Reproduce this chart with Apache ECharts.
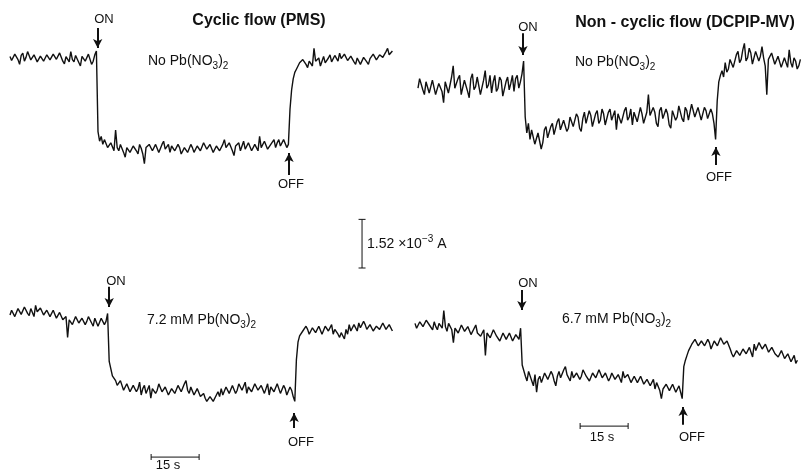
<!DOCTYPE html>
<html>
<head>
<meta charset="utf-8">
<script src="https://cdn.jsdelivr.net/npm/echarts@6/dist/echarts.min.js"></script>
<style>
  html, body { margin: 0; padding: 0; background: #fff; }
  #chart { width: 806px; height: 471px; }
</style>
</head>
<body>
<div id="chart"></div>
<script>
// photocurrent traces, 2 samples per second, values in mA relative to the dark level
const STEP = 0.5;

const cyclicNoPb = [
  0.05, -0.08, -0.12, 0.12, 0.1, -0.05, -0.2, 0.08, 0.15, -0.1, 0.02, 0.2, 0.18, -0.06, -0.05, 0.1, 0.12, -0.12, -0.08, 0.06,
  0.08, -0.1, -0.15, 0.1, 0.05, -0.06, -0.1, 0.12, 0.14, -0.04, -0.02, 0.16, 0.1, -0.1, -0.18, 0.04, 0.06, -0.12, 0.2, -0.05,
  -0.12, 0.08, 0.04, -0.14, -0.25, 0.05, 0.1, -0.1, -0.06, 0.12, 0.16, -0.2, -0.1, 0.1, 0.22, -2.3,
  -2.6, -2.45, -2.7, -2.55, -2.6, -2.8, -2.85, -2.65, -2.7, -2.9, -2.25, -2.8, -2.9, -2.7, -2.75, -2.95, -3.1, -2.8, -2.8, -2.95,
  -2.95, -2.75, -2.7, -2.9, -3.0, -2.7, -2.82, -3.0, -3.3, -2.8, -2.85, -2.7, -2.65, -2.9, -2.95, -2.7, -2.75, -2.95, -2.9, -2.7,
  -2.6, -2.85, -2.85, -2.7, -2.95, -2.75, -2.7, -2.9, -2.9, -2.7, -2.8, -3.0, -3.0, -2.8, -2.75, -2.95, -2.9, -2.7, -2.8, -2.95,
  -2.95, -2.75, -2.7, -2.9, -2.85, -2.65, -2.6, -2.85, -2.9, -2.7, -2.75, -2.95, -3.0, -2.75, -2.78, -2.9, -2.9, -2.7, -2.55, -2.8,
  -2.85, -2.65, -2.7, -2.9, -3.05, -2.75, -2.8, -2.65, -2.9, -2.75, -2.6, -2.85, -2.85, -2.65, -2.7, -2.9, -2.95, -2.7, -2.75, -2.9,
  -2.45, -2.8, -2.85, -2.6, -2.65, -2.85, -2.9, -2.7, -2.7, -2.55, -2.8, -2.65, -2.55, -2.75, -2.75, -2.55, -2.6, -2.8, -2.7, -1.6,
  -1.0, -0.65, -0.45, -0.35, -0.3, -0.15, -0.2, -0.05, -0.05, -0.2, -0.3, -0.1, -0.1, -0.25, 0.3, -0.1, -0.15, 0.0, -0.25, -0.1,
  0.05, -0.15, -0.2, 0.0, 0.1, -0.12, -0.1, 0.08, 0.02, -0.1, 0.15, -0.02, -0.05, 0.12, 0.1, -0.08, -0.1, 0.06, 0.05, -0.12,
  -0.2, 0.0, -0.05, -0.2, -0.15, 0.02, 0.05, -0.12, -0.2, -0.02, -0.05, 0.12, 0.1, -0.06, -0.08, 0.1, 0.15, 0.02, 0.05, 0.2, 0.3, 0.1, 0.15, 0.22
];

const noncyclicNoPb = [
  -0.1, 0.2, 0.25, -0.15, -0.3, 0.1, 0.1, -0.25, -0.2, 0.15, 0.2, -0.3, -0.35, 0.05, 0.05, -0.2, -0.55, 0.1, 0.15, -0.25,
  -0.2, 0.25, 0.6, -0.1, -0.1, 0.2, 0.3, -0.3, -0.25, 0.15, 0.1, -0.2, -0.4, 0.2, 0.35, -0.15, -0.05, 0.25, 0.2, -0.3,
  -0.3, 0.15, 0.45, -0.1, 0.0, 0.3, -0.25, 0.1, 0.3, -0.2, -0.1, 0.25, 0.15, -0.35, -0.35, 0.1, 0.25, -0.15, 0.05, 0.3,
  -0.2, 0.2, 0.3, -0.1, 0.1, 0.35, 0.75, -1.0,
  -1.5, -1.2, -1.7, -1.4, -1.45, -1.85, -1.9, -1.5, -1.55, -2.0, -1.8, -1.4, -1.3, -1.65, -1.6, -1.3, -1.2, -1.55, -1.5, -1.15,
  -1.05, -1.4, -1.4, -1.1, -1.1, -1.45, -1.35, -1.0, -0.95, -1.3, -1.25, -0.9, -1.0, -1.35, -1.45, -1.05, -0.85, -1.2, -1.2, -0.8,
  -0.95, -1.3, -1.35, -0.9, -0.8, -1.2, -1.1, -0.75, -0.9, -1.25, -1.3, -0.85, -0.75, -1.1, -1.05, -0.8, -1.4, -0.9, -0.85, -1.2,
  -1.15, -0.8, -0.7, -1.1, -1.0, -0.75, -1.25, -0.85, -0.8, -1.15, -1.1, -0.7, -0.9, -1.2, -1.2, -0.85, -0.3, -0.95, -1.0, -0.7,
  -0.85, -1.2, -1.3, -0.8, -0.7, -1.05, -1.05, -0.75, -0.9, -1.25, -1.35, -0.8, -0.75, -1.1, -1.0, -0.65, -0.6, -1.05, -1.15, -0.7,
  -0.8, -1.1, -1.05, -0.6, -0.55, -1.0, -0.95, -0.7, -0.75, -1.1, -1.1, -0.7, -0.8, -1.05, -1.0, -0.75, -0.9, -1.2, -1.7, -0.5,
  0.1, 0.3, 0.45, 0.25, 0.7, 0.4, 0.5, 0.8, 0.85, 0.55, 0.6, 0.95, 1.05, 0.7, 0.8, 1.1, 1.3, 0.75, 0.85, 1.15,
  1.0, 0.65, 0.7, 1.05, 1.1, 0.75, 0.9, 1.2, 0.85, 0.6, -0.3, 0.8, 0.75, 1.0, 0.95, 0.65, 0.6, 0.9, 0.9, 0.55,
  0.5, 0.85, 0.8, 0.55, 1.1, 0.7, 0.55, 0.85, 0.75, 0.5, 0.6, 0.8
];

const cyclicPb72 = [
  0.0, 0.15, 0.12, -0.05, -0.05, 0.2, 0.2, 0.02, 0.05, 0.25, 0.25, 0.05, -0.02, 0.2, 0.18, -0.05, 0.3, 0.1, 0.05, 0.22,
  0.22, 0.0, -0.05, 0.15, 0.15, -0.05, 0.0, 0.15, 0.12, -0.1, -0.1, 0.08, 0.05, -0.15, -0.2, -0.05, -0.7, -0.15, -0.1, -0.3,
  -0.25, -0.05, -0.05, -0.25, -0.3, -0.1, -0.1, -0.3, -0.2, -0.05, 0.0, -0.25, -0.35, -0.1, -0.15, -0.35, -0.3, -0.1, -0.1, -0.3,
  -0.2, 0.05, -1.45, -1.5, -1.9, -1.85, -2.05, -2.2, -2.2, -2.05, -2.1, -2.35, -2.35, -2.15, -2.2, -2.4, -2.45, -2.2, -2.15, -2.4,
  -2.3, -2.1, -2.5, -2.3, -2.2, -2.45, -2.4, -2.2, -2.6, -2.3, -2.25, -2.45, -2.35, -2.15, -2.15, -2.4, -2.45, -2.25, -2.3, -2.5,
  -2.55, -2.3, -2.25, -2.45, -2.4, -2.2, -2.2, -2.4, -2.35, -2.15, -2.05, -2.35, -2.45, -2.25, -2.3, -2.5, -2.5, -2.3, -2.35, -2.55,
  -2.55, -2.45, -2.6, -2.7, -2.7, -2.55, -2.55, -2.7, -2.65, -2.5, -2.4, -2.55, -2.3, -2.5, -2.45, -2.25, -2.2, -2.45, -2.4, -2.2,
  -2.25, -2.45, -2.35, -2.15, -2.1, -2.35, -2.3, -2.1, -2.45, -2.25, -2.2, -2.4, -2.35, -2.15, -2.1, -2.35, -2.4, -2.2, -2.25, -2.45,
  -2.3, -2.15, -2.5, -2.25, -2.2, -2.4, -2.35, -2.15, -2.15, -2.45, -2.4, -2.2, -2.3, -2.5, -2.45, -2.25, -2.35, -2.55, -2.7, -1.4,
  -0.85, -0.65, -0.6, -0.5, -0.5, -0.35, -0.45, -0.6, -0.6, -0.4, -0.35, -0.55, -0.5, -0.35, -0.4, -0.6, -0.55, -0.35, -0.3, -0.5,
  -0.45, -0.3, -0.6, -0.45, -0.45, -0.6, -0.7, -0.55, -0.6, -0.75, -0.45, -0.6, -0.3, -0.5, -0.5, -0.3, -0.35, -0.5, -0.25, -0.4,
  -0.4, -0.2, -0.3, -0.45, -0.45, -0.3, -0.35, -0.5, -0.55, -0.35, -0.3, -0.45, -0.4, -0.25, -0.25, -0.45, -0.45, -0.3, -0.35, -0.5
];

const noncyclicPb67 = [
  0.05, -0.1, -0.1, 0.1, 0.15, -0.05, -0.05, 0.15, 0.2, 0.0, 0.0, -0.15, 0.1, -0.05, -0.15, 0.05, 0.05, -0.1, 0.45, -0.05,
  -0.2, 0.05, 0.1, -0.15, -0.55, -0.1, -0.05, -0.25, -0.2, 0.0, 0.05, -0.2, -0.25, -0.05, -0.1, -0.3, -0.3, -0.1, 0.0, -0.25,
  -0.2, -0.35, -0.35, -0.15, -0.95, -0.25, -0.2, -0.4, -0.35, -0.15, -0.15, -0.35, -0.3, -0.5, -0.45, -0.25, -0.25, -0.45, -0.4, -0.25,
  -0.3, -0.5, -0.5, -0.3, -0.35, -0.45, -0.1, -1.25, -1.3, -1.6, -1.75, -1.45, -1.5, -1.75, -1.9, -1.55, -2.1, -1.7, -1.6, -1.8,
  -1.8, -1.5, -1.5, -1.7, -1.7, -1.45, -1.55, -1.75, -1.9, -1.6, -1.45, -1.65, -1.65, -1.4, -1.3, -1.55, -1.6, -1.75, -1.45, -1.65,
  -1.7, -1.5, -1.5, -1.7, -1.6, -1.4, -1.35, -1.6, -1.55, -1.75, -1.75, -1.5, -1.5, -1.65, -1.6, -1.4, -1.45, -1.65, -1.7, -1.5,
  -1.55, -1.75, -1.65, -1.5, -1.5, -1.7, -1.75, -1.55, -1.6, -1.8, -1.45, -1.65, -1.7, -1.55, -1.55, -1.8, -1.85, -1.6, -1.6, -1.8,
  -1.75, -1.6, -1.65, -1.85, -1.9, -1.7, -1.7, -1.9, -1.85, -1.7, -2.0, -1.8, -1.8, -2.05, -2.3, -2.0, -2.0, -1.85, -1.85, -2.05,
  -2.05, -1.85, -1.9, -2.1, -2.1, -1.9, -2.1, -2.3, -1.3, -1.1, -0.95, -0.8, -0.75, -0.6, -0.6, -0.45, -0.5, -0.65, -0.7, -0.5,
  -0.45, -0.65, -0.65, -0.45, -0.55, -0.75, -0.7, -0.5, -0.5, -0.65, -0.6, -0.4, -0.4, -0.6, -0.65, -0.5, -0.55, -0.75, -0.9, -1.0,
  -1.0, -0.8, -0.8, -0.95, -0.95, -0.75, -0.75, -0.9, -0.9, -0.7, -0.85, -1.0, -0.6, -0.8, -0.75, -0.55, -0.55, -0.75, -0.8, -0.6,
  -0.6, -0.85, -0.9, -0.7, -0.7, -0.9, -0.85, -1.0, -1.0, -0.8, -0.8, -1.05, -1.1, -0.9, -0.95, -1.15, -1.15, -0.95, -1.2, -1.1
];

// light ON / OFF arrows: [time s, tail mA, head mA]
const cyclicNoPbArrows = [[27.4, 0.94, 0.31], [87.2, -3.66, -2.97]];
const noncyclicNoPbArrows = [[32.8, 1.62, 0.94], [93.1, -2.5, -1.94]];
const cyclicPb72Arrows = [[31.0, 0.88, 0.25], [88.8, -3.53, -3.06]];
const noncyclicPb67Arrows = [[33.4, 1.09, 0.47], [83.8, -3.12, -2.56]];

// time scale bars (15 s) : [start s, end s, level mA]
const timeBarPb72 = [44.1, 59.1, -4.44];
const timeBarPb67 = [51.6, 66.6, -3.16];
// current scale bar 1.52 mA
const currentBar = [0.375, 1.895];

const INK = '#111';
const FONT = '"Liberation Sans", Arial, Helvetica, sans-serif';

const panels = [
  { left: 10, top: 16.4, height: 169.6, min: -4.0, max: 1.3, data: cyclicNoPb, arrows: cyclicNoPbArrows },
  { left: 418, top: 27.4, height: 153.6, min: -3.0, max: 1.8, data: noncyclicNoPb, arrows: noncyclicNoPbArrows },
  { left: 10, top: 276.6, height: 185.6, min: -4.6, max: 1.2, data: cyclicPb72, arrows: cyclicPb72Arrows },
  { left: 415, top: 283.4, height: 163.2, min: -3.8, max: 1.3, data: noncyclicPb67, arrows: noncyclicPb67Arrows }
];

const grid = panels.map(p => ({ left: p.left, top: p.top, width: 384, height: p.height }));
grid.push({ left: 355, top: 200, width: 16, height: 80 });

const xAxis = panels.map((p, i) => ({ type: 'value', gridIndex: i, min: 0, max: 120, show: false }));
xAxis.push({ type: 'value', gridIndex: 4, min: 0, max: 1, show: false });
const yAxis = panels.map((p, i) => ({ type: 'value', gridIndex: i, min: p.min, max: p.max, show: false }));
yAxis.push({ type: 'value', gridIndex: 4, min: 0, max: 2.5, show: false });

const series = panels.map((p, i) => ({
  type: 'line',
  xAxisIndex: i,
  yAxisIndex: i,
  data: p.data.map((v, k) => [k * STEP, v]),
  showSymbol: false,
  lineStyle: { color: INK, width: 1.4 },
  markLine: {
    silent: true,
    symbol: ['none', 'arrow'],
    symbolSize: [7, 9],
    label: { show: false },
    lineStyle: { color: INK, width: 2, type: 'solid' },
    data: p.arrows.map(a => [{ coord: [a[0], a[1]] }, { coord: [a[0], a[2]] }])
  }
}));

function hBar(idx, bar) {
  return {
    type: 'line', xAxisIndex: idx, yAxisIndex: idx,
    data: [[bar[0], bar[2]], [bar[1], bar[2]]],
    symbol: 'rect', symbolSize: [1, 6], showSymbol: true,
    itemStyle: { color: INK }, lineStyle: { color: INK, width: 1 }
  };
}
series.push(hBar(2, timeBarPb72));
series.push(hBar(3, timeBarPb67));
series.push({
  type: 'line', xAxisIndex: 4, yAxisIndex: 4,
  data: [[0.44, currentBar[0]], [0.44, currentBar[1]]],
  symbol: 'rect', symbolSize: [7, 1], showSymbol: true,
  itemStyle: { color: INK }, lineStyle: { color: INK, width: 1 }
});

const rich = {
  n: { fontSize: 14, fontFamily: FONT, lineHeight: 20, verticalAlign: 'middle', fill: INK },
  s: { fontSize: 10, fontFamily: FONT, lineHeight: 12, verticalAlign: 'bottom', fill: INK },
  u: { fontSize: 10, fontFamily: FONT, lineHeight: 12, verticalAlign: 'top', fill: INK }
};

function label(x, y, text, size, bold, align) {
  return {
    type: 'text', x: x, y: y, silent: true,
    style: {
      text: text, fill: INK, fontSize: size, fontFamily: FONT,
      fontWeight: bold ? 'bold' : 'normal',
      align: align || 'center', verticalAlign: 'middle'
    }
  };
}
function richLabel(x, y, text) {
  return {
    type: 'text', x: x, y: y, silent: true,
    style: { text: text, rich: rich, fill: INK, fontSize: 14, fontFamily: FONT, align: 'left', verticalAlign: 'middle' }
  };
}

const graphic = [
  label(259, 21, 'Cyclic flow (PMS)', 16, true),
  label(685, 23, 'Non - cyclic flow (DCPIP-MV)', 16, true),
  label(104, 19, 'ON', 13),
  label(291, 184, 'OFF', 13),
  label(528, 27, 'ON', 13),
  label(719, 177, 'OFF', 13),
  label(116, 281, 'ON', 13),
  label(301, 442, 'OFF', 13),
  label(528, 283, 'ON', 13),
  label(692, 437, 'OFF', 13),
  label(168, 465, '15 s', 13),
  label(602, 437, '15 s', 13),
  richLabel(148, 61, '{n|No Pb(NO}{s|3}{n|)}{s|2}'),
  richLabel(575, 62, '{n|No Pb(NO}{s|3}{n|)}{s|2}'),
  richLabel(147, 320, '{n|7.2 mM Pb(NO}{s|3}{n|)}{s|2}'),
  richLabel(562, 319, '{n|6.7 mM Pb(NO}{s|3}{n|)}{s|2}'),
  richLabel(367, 244, '{n|1.52 ×10}{u|−3}{n| A}')
];

const chart = echarts.init(document.getElementById('chart'));
chart.setOption({
  animation: false,
  backgroundColor: '#fff',
  grid: grid,
  xAxis: xAxis,
  yAxis: yAxis,
  series: series,
  graphic: graphic
});
</script>
</body>
</html>
